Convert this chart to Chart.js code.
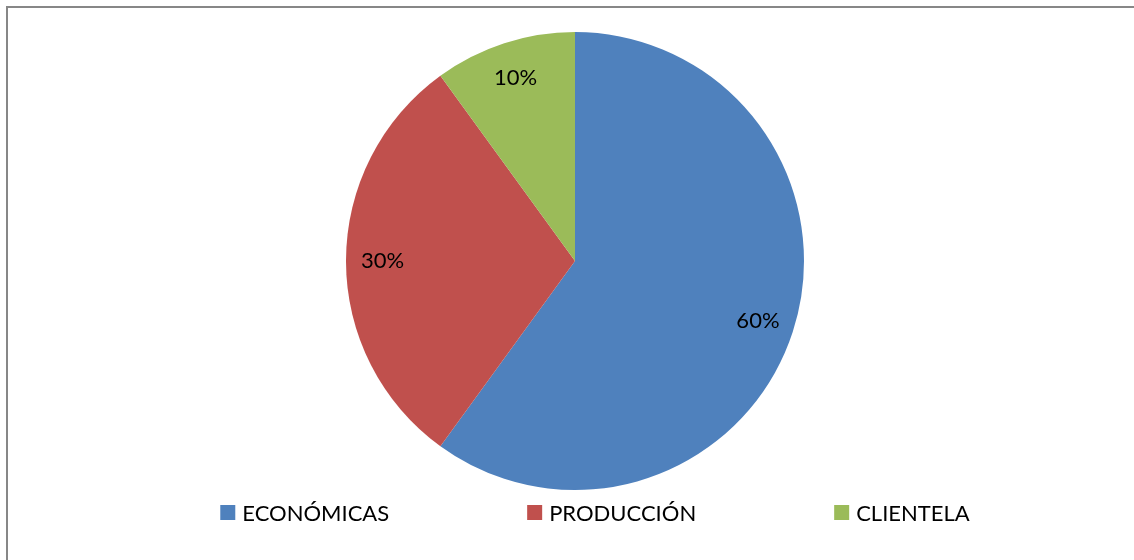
<!DOCTYPE html>
<html>
<head>
<meta charset="utf-8">
<style>
  html, body { margin: 0; padding: 0; background: #ffffff; }
  #wrap { width: 1134px; height: 560px; position: relative; }
</style>
<script src="https://cdn.jsdelivr.net/npm/chart.js@4"></script>
</head>
<body>
<div id="wrap"><canvas id="pie" width="1134" height="560"></canvas></div>
<script>
// Categories and their shares (percent)
const categories = ['ECONÓMICAS', 'PRODUCCIÓN', 'CLIENTELA'];
const shares = [60, 30, 10];
const sliceColors = ['#4F81BD', '#C0504D', '#9BBB59'];

const FONT = 'Lato, "DejaVu Sans", sans-serif';

// Gray frame around the chart
const framePlugin = {
  id: 'frame',
  beforeDraw(chart) {
    const ctx = chart.ctx;
    ctx.save();
    ctx.fillStyle = '#ffffff';
    ctx.fillRect(0, 0, chart.width, chart.height);
    ctx.strokeStyle = '#878787';
    ctx.lineWidth = 2;
    ctx.strokeRect(7, 7, chart.width + 20, chart.height + 20);
    ctx.restore();
  }
};

// Percentage labels placed inside each slice
const sliceLabelPlugin = {
  id: 'sliceLabels',
  afterDatasetsDraw(chart) {
    const ctx = chart.ctx;
    const meta = chart.getDatasetMeta(0);
    const total = chart.data.datasets[0].data.reduce((a, b) => a + b, 0);
    ctx.save();
    ctx.font = '22px ' + FONT;
    ctx.fillStyle = '#000000';
    ctx.textAlign = 'center';
    ctx.textBaseline = 'middle';
    meta.data.forEach((arc, i) => {
      const p = arc.getProps(['x', 'y', 'startAngle', 'endAngle', 'outerRadius'], true);
      const mid = (p.startAngle + p.endAngle) / 2;
      const r = p.outerRadius * 0.84;
      const v = chart.data.datasets[0].data[i];
      const txt = Math.round(v / total * 100) + '%';
      ctx.fillText(txt, p.x + Math.cos(mid) * r, p.y + Math.sin(mid) * r);
    });
    ctx.restore();
  }
};

// Legend row along the bottom, built from the chart's labels and colours
const bottomLegendPlugin = {
  id: 'bottomLegend',
  afterDraw(chart) {
    const ctx = chart.ctx;
    const labels = chart.data.labels;
    const colors = chart.data.datasets[0].backgroundColor;
    const box = 15, boxGap = 7, itemGap = 138, centerX = 595, midY = 513;
    ctx.save();
    ctx.font = '22px ' + FONT;
    ctx.textBaseline = 'middle';
    ctx.textAlign = 'left';
    const widths = labels.map(l => box + boxGap + ctx.measureText(l).width);
    const total = widths.reduce((a, b) => a + b, 0) + itemGap * (labels.length - 1);
    let x = centerX - total / 2;
    labels.forEach((l, i) => {
      ctx.fillStyle = colors[i];
      ctx.fillRect(x, midY - box / 2 - 0.5, box, box);
      ctx.fillStyle = '#000000';
      ctx.fillText(l, x + box + boxGap, midY + 1);
      x += widths[i] + itemGap;
    });
    ctx.restore();
  }
};

new Chart(document.getElementById('pie'), {
  type: 'pie',
  data: {
    labels: categories,
    datasets: [{
      data: shares,
      backgroundColor: sliceColors,
      borderWidth: 0,
      hoverOffset: 0
    }]
  },
  options: {
    responsive: false,
    animation: false,
    events: [],
    layout: { padding: { top: 32, bottom: 70, left: 16, right: 0 } },
    plugins: {
      legend: { display: false },
      tooltip: { enabled: false }
    }
  },
  plugins: [framePlugin, sliceLabelPlugin, bottomLegendPlugin]
});
</script>
</body>
</html>
